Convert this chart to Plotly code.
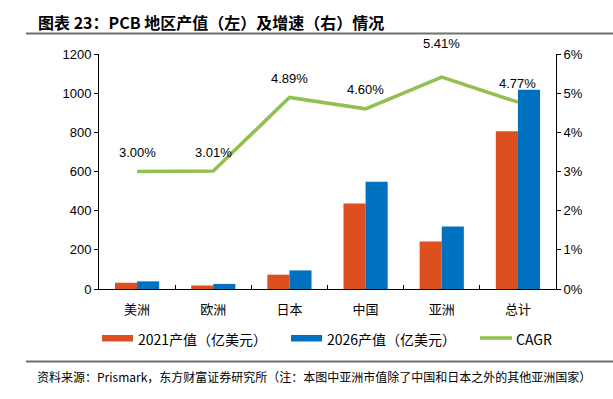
import plotly.graph_objects as go

categories = ["美洲", "欧洲", "日本", "中国", "亚洲", "总计"]
value_2021 = [32, 18, 73, 436, 242, 805]
value_2026 = [39, 26, 95, 548, 319, 1018]
cagr = [3.00, 3.01, 4.89, 4.60, 5.41, 4.77]
cagr_labels = ["3.00%", "3.01%", "4.89%", "4.60%", "5.41%", "4.77%"]
label_shift = [19, 19, 19, 19, 34, 19]
series_names = ["2021产值（亿美元）", "2026产值（亿美元）", "CAGR"]
series_colors = ["#DD4F1F", "#0070C0", "#92C050"]

FONT = "Liberation Sans, Noto Sans CJK SC, sans-serif"
CJK = "Noto Sans CJK SC, sans-serif"

fig = go.Figure()
fig.add_trace(go.Bar(x=categories, y=value_2021, name=series_names[0],
                     marker=dict(color=series_colors[0], line=dict(width=0))))
fig.add_trace(go.Bar(x=categories, y=value_2026, name=series_names[1],
                     marker=dict(color=series_colors[1], line=dict(width=0))))
fig.add_trace(go.Scatter(x=categories, y=cagr, name=series_names[2], yaxis="y2", mode="lines",
                         line=dict(color=series_colors[2], width=3.5)))

for c, v, t, s in zip(categories, cagr, cagr_labels, label_shift):
    fig.add_annotation(x=c, y=v, yref="y2", text=t, showarrow=False, yshift=s,
                       font=dict(size=13, color="#000", family=FONT))

W, H = 613, 399
l, r, t, b = 99, 57, 54, 110
pw, ph = W - l - r, H - t - b
def px(x): return (x - l) / pw
def py(y): return (H - b - y) / ph

# title & source
fig.add_annotation(x=px(36), y=py(22), xref="paper", yref="paper", xanchor="left", yanchor="middle",
                   text="<b>图表 23：PCB 地区产值（左）及增速（右）情况</b>", showarrow=False,
                   font=dict(size=16, color="#000", family=CJK))
fig.add_shape(type="line", xref="paper", yref="paper", x0=px(26), x1=px(613), y0=py(33.5), y1=py(33.5),
              line=dict(color="#707070", width=2))
fig.add_shape(type="line", xref="paper", yref="paper", x0=px(26), x1=px(613), y0=py(361.5), y1=py(361.5),
              line=dict(color="#707070", width=2))
fig.add_annotation(x=px(35), y=py(376), xref="paper", yref="paper", xanchor="left", yanchor="middle",
                   text="资料来源：Prismark，东方财富证券研究所（注：本图中亚洲市值除了中国和日本之外的其他亚洲国家）",
                   showarrow=False, font=dict(size=12, color="#000", family=CJK))

# legend
leg_x = [102, 291, 480]
for i, (name, col) in enumerate(zip(series_names, series_colors)):
    x0 = leg_x[i]
    if i < 2:
        fig.add_shape(type="rect", xref="paper", yref="paper", x0=px(x0), x1=px(x0 + 31),
                      y0=py(341.5), y1=py(335), fillcolor=col, line=dict(width=0))
    else:
        fig.add_shape(type="line", xref="paper", yref="paper", x0=px(x0), x1=px(x0 + 32),
                      y0=py(338), y1=py(338), line=dict(color=col, width=3.5))
    fig.add_annotation(x=px(x0 + 34), y=py(339), xref="paper", yref="paper", xanchor="left",
                       yanchor="middle", text=name, showarrow=False,
                       font=dict(size=14, color="#000", family=CJK))

fig.update_layout(
    width=W, height=H, margin=dict(l=l, r=r, t=t, b=b),
    paper_bgcolor="white", plot_bgcolor="white",
    barmode="group", bargap=0.42, bargroupgap=0,
    font=dict(family=FONT, size=12, color="#000"),
    showlegend=False,
    xaxis=dict(showline=True, linecolor="#000", linewidth=1, ticks="inside", ticklen=4,
               tickson="boundaries", tickcolor="#000", tickfont=dict(size=13, family=CJK),
               ticklabelstandoff=8, showgrid=False),
    yaxis=dict(range=[0, 1200], dtick=200, showline=True, linecolor="#000", linewidth=1,
               ticks="outside", ticklen=4, tickcolor="#000", showgrid=False, zeroline=False,
               tickfont=dict(size=13)),
    yaxis2=dict(range=[0, 6], dtick=1, overlaying="y", side="right", showline=True,
                linecolor="#000", linewidth=1, ticks="outside", ticklen=4, tickcolor="#000",
                ticksuffix="%", showgrid=False, zeroline=False, tickfont=dict(size=13)),
)

fig.write_html("out.html", config={"displayModeBar": False},
               post_script="document.body.style.margin='0';document.body.style.overflow='hidden';")
